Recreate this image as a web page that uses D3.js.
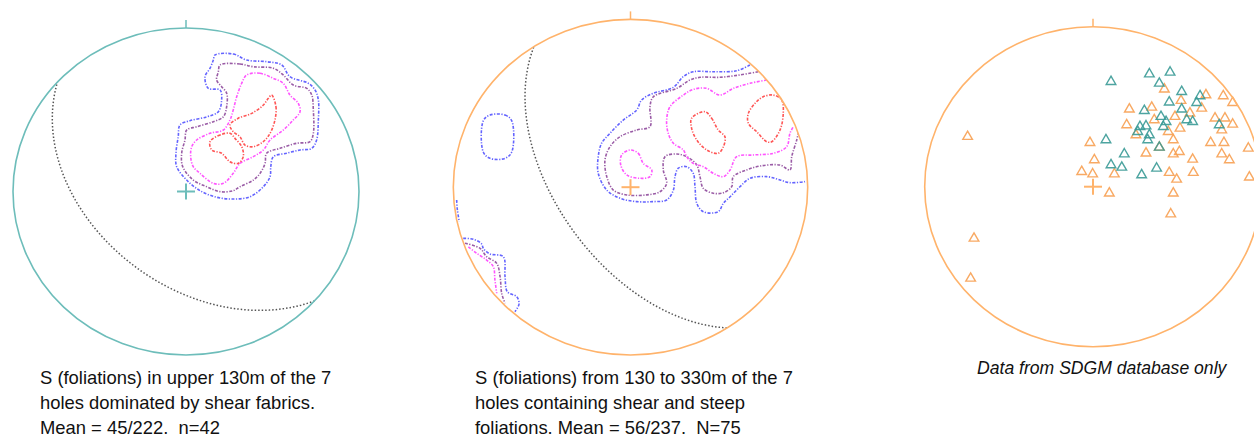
<!DOCTYPE html>
<html><head><meta charset="utf-8">
<script src="https://cdn.jsdelivr.net/npm/d3@7"></script>
<style>body{margin:0;background:#fff;} svg{display:block;} text{white-space:pre;}</style>
</head><body>
<svg id="chart" width="1254" height="441"></svg>
<script>
// ---------- DATA (equal-area net coordinates, unit radius, x = East, y = North) ----------
// Mean planes (dip / dip direction) shown as great circles
const plane1 = {dip: 45, dipDir: 222};
const plane2 = {dip: 56, dipDir: 237};

// Net 1 contours (pole density levels)
const net1Blue = [[0.168,0.835],[0.273,0.841],[0.351,0.804],[0.466,0.794],[0.553,0.774],[0.601,0.702],[0.707,0.662],[0.746,0.621],[0.765,0.560],[0.765,0.437],[0.755,0.315],[0.727,0.264],[0.659,0.254],[0.582,0.234],[0.505,0.213],[0.490,0.152],[0.486,0.091],[0.447,0.029],[0.370,-0.032],[0.273,-0.046],[0.177,-0.035],[0.081,0.005],[0.004,0.070],[-0.054,0.152],[-0.058,0.234],[-0.045,0.335],[-0.035,0.407],[0.023,0.433],[0.120,0.457],[0.187,0.488],[0.206,0.560],[0.197,0.621],[0.129,0.631],[0.110,0.702],[0.139,0.754],[0.158,0.804]];
const net1Purple = [[0.197,0.774],[0.312,0.780],[0.389,0.763],[0.505,0.754],[0.562,0.713],[0.620,0.651],[0.698,0.631],[0.727,0.590],[0.736,0.498],[0.736,0.356],[0.717,0.305],[0.640,0.295],[0.543,0.264],[0.466,0.234],[0.457,0.172],[0.428,0.111],[0.389,0.070],[0.312,0.029],[0.273,0.005],[0.197,-0.001],[0.120,0.029],[0.042,0.070],[-0.019,0.152],[-0.025,0.234],[-0.006,0.315],[0.004,0.376],[0.062,0.396],[0.158,0.427],[0.216,0.457],[0.235,0.519],[0.235,0.601],[0.206,0.641],[0.177,0.682],[0.187,0.733]];
const net1Magenta = [[0.351,0.713],[0.428,0.723],[0.505,0.692],[0.562,0.662],[0.601,0.590],[0.649,0.539],[0.659,0.488],[0.620,0.437],[0.562,0.376],[0.486,0.315],[0.447,0.254],[0.389,0.213],[0.312,0.172],[0.273,0.111],[0.216,0.050],[0.158,0.050],[0.081,0.111],[0.042,0.152],[0.027,0.213],[0.033,0.274],[0.062,0.315],[0.139,0.356],[0.216,0.376],[0.254,0.437],[0.273,0.498],[0.293,0.580],[0.322,0.662]];
const net1RedA = [[0.495,0.590],[0.520,0.519],[0.514,0.437],[0.486,0.356],[0.447,0.305],[0.389,0.274],[0.341,0.284],[0.312,0.335],[0.273,0.366],[0.254,0.407],[0.302,0.448],[0.380,0.478],[0.447,0.529],[0.476,0.570]];
const net1RedB = [[0.254,0.356],[0.197,0.346],[0.139,0.305],[0.149,0.254],[0.206,0.234],[0.254,0.182],[0.302,0.172],[0.331,0.213],[0.322,0.274],[0.283,0.325]];

// Net 2 contours
const net2BlueMain = [[0.674,0.728],[0.599,0.694],[0.467,0.688],[0.354,0.688],[0.298,0.659],[0.242,0.595],[0.129,0.560],[0.063,0.520],[0.035,0.460],[-0.041,0.400],[-0.116,0.321],[-0.163,0.262],[-0.182,0.182],[-0.182,0.083],[-0.134,-0.017],[-0.059,-0.066],[0.035,-0.086],[0.129,-0.086],[0.204,-0.076],[0.242,-0.017],[0.251,0.063],[0.270,0.113],[0.317,0.122],[0.354,0.083],[0.364,0.003],[0.374,-0.096],[0.411,-0.146],[0.495,-0.146],[0.524,-0.096],[0.562,-0.057],[0.618,0.003],[0.674,0.053],[0.769,0.063],[0.844,0.043],[0.900,0.027],[0.985,0.033]];
const net2PurpleMain = [[0.721,0.688],[0.618,0.669],[0.505,0.655],[0.392,0.655],[0.336,0.639],[0.261,0.589],[0.129,0.539],[0.110,0.480],[0.110,0.361],[0.035,0.341],[-0.059,0.301],[-0.116,0.241],[-0.144,0.162],[-0.134,0.063],[-0.097,-0.017],[-0.021,-0.046],[0.091,-0.046],[0.166,-0.027],[0.204,0.023],[0.185,0.103],[0.195,0.182],[0.261,0.198],[0.317,0.182],[0.374,0.132],[0.392,0.063],[0.411,-0.007],[0.467,-0.036],[0.524,-0.033],[0.571,0.003],[0.580,0.063],[0.656,0.103],[0.731,0.126],[0.844,0.132],[0.900,0.103],[0.910,0.182],[0.938,0.281],[0.947,0.321]];
const net2MagentaMain = [[0.769,0.639],[0.674,0.619],[0.580,0.589],[0.505,0.549],[0.430,0.589],[0.354,0.583],[0.298,0.549],[0.223,0.480],[0.204,0.400],[0.213,0.321],[0.242,0.262],[0.298,0.222],[0.317,0.182],[0.354,0.142],[0.411,0.122],[0.467,0.083],[0.524,0.063],[0.562,0.103],[0.599,0.182],[0.693,0.192],[0.806,0.202],[0.881,0.241],[0.900,0.321],[0.919,0.361]];
const net2MagentaSmall = [[-0.003,0.222],[0.044,0.202],[0.072,0.142],[0.120,0.103],[0.110,0.063],[0.054,0.053],[-0.021,0.073],[-0.055,0.132],[-0.050,0.192]];
const net2RedA = [[0.420,0.450],[0.458,0.411],[0.495,0.341],[0.533,0.301],[0.524,0.241],[0.495,0.202],[0.430,0.222],[0.374,0.281],[0.345,0.351],[0.345,0.411]];
const net2RedB = [[0.806,0.549],[0.853,0.520],[0.862,0.440],[0.844,0.341],[0.797,0.271],[0.769,0.271],[0.712,0.331],[0.665,0.381],[0.665,0.440],[0.703,0.500],[0.749,0.539]];
const net2BlueBox = [[-0.793,0.430],[-0.708,0.430],[-0.670,0.395],[-0.670,0.210],[-0.708,0.172],[-0.793,0.172],[-0.831,0.210],[-0.831,0.395]];
const net2BlueRim = [[-0.981,-0.076],[-0.977,-0.136],[-0.966,-0.206]];
const net2BlueLL = [[-0.944,-0.305],[-0.887,-0.310],[-0.840,-0.338],[-0.831,-0.364],[-0.793,-0.398],[-0.718,-0.414],[-0.708,-0.533],[-0.695,-0.623],[-0.642,-0.653],[-0.629,-0.696],[-0.652,-0.742]];
const net2PurpleLL = [[-0.934,-0.334],[-0.849,-0.364],[-0.812,-0.414],[-0.755,-0.454],[-0.736,-0.533],[-0.727,-0.632],[-0.708,-0.692]];
const net2MagentaLL = [[-0.915,-0.355],[-0.868,-0.394],[-0.812,-0.434],[-0.774,-0.474],[-0.765,-0.553],[-0.755,-0.632]];

// Net 3 poles (two data sets)
const net3Teal = [[0.107,0.656],[0.335,0.704],[0.458,0.715],[0.394,0.646],[0.527,0.594],[0.636,0.567],[0.453,0.528],[0.616,0.525],[0.527,0.484],[0.305,0.475],[0.404,0.438],[0.434,0.406],[0.557,0.417],[0.592,0.406],[0.279,0.375],[0.315,0.379],[0.418,0.375],[0.266,0.344],[0.335,0.323],[0.325,0.292],[0.394,0.246],[0.077,0.292],[0.186,0.204],[0.107,0.136],[0.171,0.121],[0.378,0.115],[0.289,0.073],[0.750,0.386]];
const net3Orange = [[0.424,0.609],[0.671,0.573],[0.774,0.567],[0.830,0.525],[0.523,0.538],[0.646,0.490],[0.216,0.484],[0.349,0.496],[0.487,0.438],[0.576,0.459],[0.200,0.386],[0.364,0.417],[0.447,0.344],[0.517,0.365],[0.255,0.323],[0.477,0.292],[0.725,0.428],[0.784,0.428],[0.830,0.390],[0.765,0.354],[0.699,0.275],[0.778,0.275],[0.923,0.240],[0.765,0.204],[0.810,0.167],[-0.018,0.275],[0.008,0.167],[-0.067,0.094],[-0.002,0.079],[0.127,0.079],[0.315,0.209],[0.394,0.246],[0.477,0.204],[0.513,0.219],[0.592,0.171],[0.596,0.088],[0.453,0.088],[0.497,0.046],[0.477,-0.041],[0.097,-0.041],[0.462,-0.171],[0.929,0.059],[-0.745,0.313],[-0.707,-0.323],[-0.727,-0.573]];

// Captions
const caption1 = ["S (foliations) in upper 130m of the 7", "holes dominated by shear fabrics.", "Mean = 45/222.  n=42"];
const caption2 = ["S (foliations) from 130 to 330m of the 7", "holes containing shear and steep", "foliations. Mean = 56/237.  N=75"];
const caption3 = ["Data from SDGM database only"];

// ---------- DRAWING ----------
const svg = d3.select('#chart');
svg.append('rect').attr('width', 1254).attr('height', 441).attr('fill', '#fff');

const C = {blue:'#6464ff', purple:'#9a5ca6', magenta:'#ff55ff', red:'#ff5555'};
const teal = '#6dbdba', orange = '#ffb36b';

const panels = [
  {cx:186, cy:191.5, rx:173, ry:163.5, rim:teal, plane:plane1,
   contours:[[net1Blue,C.blue,true],[net1Purple,C.purple,true],[net1Magenta,C.magenta,true],[net1RedA,C.red,true],[net1RedB,C.red,true]],
   caption:caption1, capX:40, italic:false},
  {cx:630.5, cy:187.2, rx:177.2, ry:167.8, rim:orange, plane:plane2,
   contours:[[net2BlueMain,C.blue,false],[net2PurpleMain,C.purple,false],[net2MagentaMain,C.magenta,false],[net2MagentaSmall,C.magenta,true],
             [net2RedA,C.red,true],[net2RedB,C.red,true],[net2BlueBox,C.blue,true],[net2BlueRim,C.blue,false],
             [net2BlueLL,C.blue,false],[net2PurpleLL,C.purple,false],[net2MagentaLL,C.magenta,false]],
   caption:caption2, capX:475, italic:false},
  {cx:1093, cy:186.7, rx:168.3, ry:160, rim:orange, plane:null, contours:[],
   points:[[net3Orange,'#f7a052'],[net3Teal,'#3a9a96']],
   caption:caption3, capX:977, italic:true}
];

function greatCircle(pl){
  const a = pl.dipDir*Math.PI/180, d = pl.dip*Math.PI/180;
  const s = [Math.sin(a - Math.PI/2), Math.cos(a - Math.PI/2), 0];
  const dv = [Math.cos(d)*Math.sin(a), Math.cos(d)*Math.cos(a), -Math.sin(d)];
  return d3.range(0, 181, 2).map(deg => {
    const t = deg*Math.PI/180;
    const e = Math.cos(t)*s[0] + Math.sin(t)*dv[0];
    const n = Math.cos(t)*s[1] + Math.sin(t)*dv[1];
    const u = Math.cos(t)*s[2] + Math.sin(t)*dv[2];
    const h = Math.hypot(e, n) || 1;
    const r = Math.sqrt(Math.max(0, 1 + u));
    return [r*e/h, r*n/h];
  });
}

panels.forEach((p, i) => {
  const x = d3.scaleLinear().domain([-1, 1]).range([p.cx - p.rx, p.cx + p.rx]);
  const y = d3.scaleLinear().domain([-1, 1]).range([p.cy + p.ry, p.cy - p.ry]);
  const g = svg.append('g');

  const clipId = 'clip' + i;
  svg.append('defs').append('clipPath').attr('id', clipId)
    .append('ellipse').attr('cx', x(0)).attr('cy', y(0)).attr('rx', x(1) - x(0)).attr('ry', y(0) - y(1));

  // great circle
  if (p.plane) {
    g.append('path').datum(greatCircle(p.plane))
      .attr('d', d3.line().x(d => x(d[0])).y(d => y(d[1])))
      .attr('fill', 'none').attr('stroke', '#555').attr('stroke-width', 1.5)
      .attr('stroke-dasharray', '1.5 2');
  }

  // contours
  const cg = g.append('g').attr('clip-path', `url(#${clipId})`);
  p.contours.forEach(([pts, col, closed]) => {
    cg.append('path').datum(pts)
      .attr('d', d3.line().x(d => x(d[0])).y(d => y(d[1])).curve(closed ? d3.curveCatmullRomClosed.alpha(0.5) : d3.curveCatmullRom.alpha(0.5)))
      .attr('fill', 'none').attr('stroke', col).attr('stroke-width', 1.6)
      .attr('stroke-dasharray', '3 1.5 1.2 1.5');
  });

  // points
  if (p.points) {
    const sym = d3.symbol().type(d3.symbolTriangle).size(40);
    p.points.forEach(([pts, col]) => {
      g.append('g').selectAll('path').data(pts).join('path')
        .attr('d', sym)
        .attr('transform', d => `translate(${x(d[0])},${y(d[1])})`)
        .attr('fill', 'none').attr('stroke', col).attr('stroke-width', 1.4).attr('stroke-opacity', 0.9);
    });
  }

  // primitive circle
  g.append('ellipse').attr('cx', x(0)).attr('cy', y(0)).attr('rx', x(1) - x(0)).attr('ry', y(0) - y(1))
    .attr('fill', 'none').attr('stroke', p.rim).attr('stroke-width', 1.6);
  // north tick
  g.append('line').attr('x1', x(0)).attr('x2', x(0)).attr('y1', y(1)).attr('y2', y(1) - 8)
    .attr('stroke', p.rim).attr('stroke-width', 1.5);
  // centre cross
  g.append('line').attr('x1', x(0) - 9).attr('x2', x(0) + 9).attr('y1', y(0)).attr('y2', y(0))
    .attr('stroke', p.rim).attr('stroke-width', 2);
  g.append('line').attr('x1', x(0)).attr('x2', x(0)).attr('y1', y(0) - 8).attr('y2', y(0) + 8)
    .attr('stroke', p.rim).attr('stroke-width', 2);

  // caption
  const t = svg.append('text')
    .attr('font-family', '"Liberation Sans", Arial, sans-serif')
    .attr('font-size', p.italic ? 17.6 : 18.4)
    .attr('font-style', p.italic ? 'italic' : 'normal')
    .attr('fill', '#111');
  p.caption.forEach((line, k) => {
    t.append('tspan').attr('x', p.capX).attr('y', (p.italic ? 374 : 384) + k*25).text(line);
  });
});
</script>
</body></html>
